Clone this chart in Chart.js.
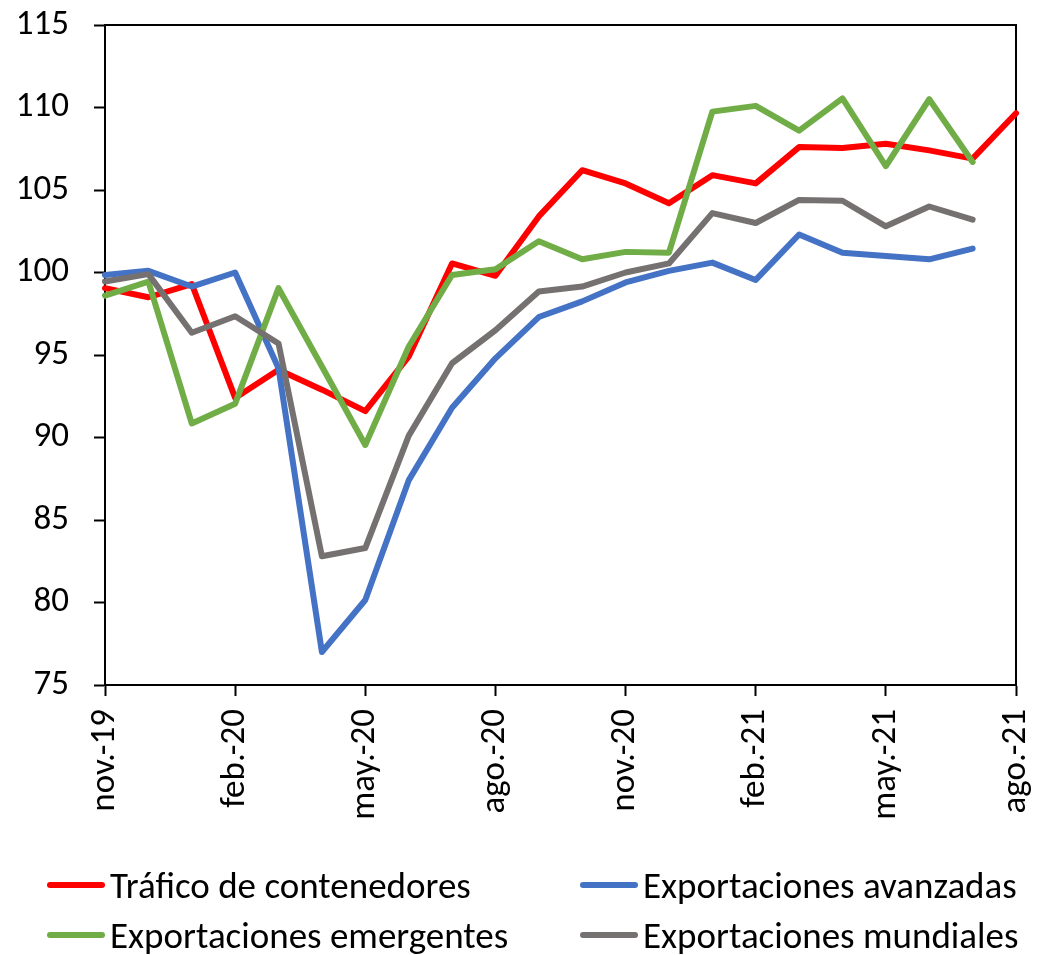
<!DOCTYPE html>
<html>
<head>
<meta charset="utf-8">
<script src="https://cdn.jsdelivr.net/npm/chart.js@4/dist/chart.umd.min.js"></script>
<style>
  html, body { margin: 0; padding: 0; background: #ffffff; }
  #wrap { position: relative; width: 1038px; height: 955px; }
  #c { position: absolute; left: 0; top: 0; }
  .leg { position: absolute; display: flex; align-items: center; font-family: Carlito, Calibri, Lato, sans-serif; font-size: 37px; color: #000; white-space: nowrap; }
  .leg .sw { width: 58px; height: 6px; border-radius: 3px; margin-right: 5px; }
</style>
</head>
<body>
<div id="wrap">
  <canvas id="c" width="1038" height="955"></canvas>
</div>
<script>
const months = ['nov.-19','dic.-19','ene.-20','feb.-20','mar.-20','abr.-20','may.-20','jun.-20','jul.-20','ago.-20','sep.-20','oct.-20','nov.-20','dic.-20','ene.-21','feb.-21','mar.-21','abr.-21','may.-21','jun.-21','jul.-21','ago.-21'];

const trafico    = [99.05, 98.5, 99.3, 92.4, 94.1, 92.9, 91.6, 94.9, 100.55, 99.8, 103.4, 106.2, 105.4, 104.2, 105.9, 105.4, 107.6, 107.55, 107.8, 107.4, 106.9, 109.65];
const avanzadas  = [99.85, 100.1, 99.15, 100.0, 94.2, 77.0, 80.15, 87.4, 91.8, 94.8, 97.3, 98.25, 99.4, 100.1, 100.6, 99.55, 102.3, 101.2, 101.0, 100.8, 101.45, null];
const emergentes = [98.6, 99.45, 90.85, 92.05, 99.05, 94.3, 89.55, 95.5, 99.85, 100.2, 101.9, 100.8, 101.25, 101.2, 109.75, 110.1, 108.6, 110.55, 106.45, 110.5, 106.7, null];
const mundiales  = [99.45, 99.9, 96.35, 97.35, 95.7, 82.8, 83.3, 90.1, 94.5, 96.5, 98.85, 99.15, 100.0, 100.55, 103.6, 103.0, 104.4, 104.35, 102.8, 104.0, 103.2, null];

const seriesNames = ['Tráfico de contenedores', 'Exportaciones avanzadas', 'Exportaciones emergentes', 'Exportaciones mundiales'];
const seriesColors = ['#FF0000', '#4472C4', '#70AD47', '#767171'];
const seriesValues = [trafico, avanzadas, emergentes, mundiales];

const yMin = 75, yMax = 115, yStep = 5, xStep = 3;

const toPoints = arr => arr.map((v, i) => ({ x: i, y: v }));

const datasets = seriesValues.map((vals, k) => ({
  label: seriesNames[k],
  data: toPoints(vals),
  borderColor: seriesColors[k],
  backgroundColor: seriesColors[k],
  borderWidth: 6,
  pointRadius: 0,
  pointHoverRadius: 0,
  tension: 0,
  spanGaps: false,
  borderCapStyle: 'round',
  borderJoinStyle: 'round',
  order: 4 - k,
  clip: 6
}));

const boxPlugin = {
  id: 'plotBox',
  beforeDatasetsDraw(chart) {
    const a = chart.chartArea, ctx = chart.ctx;
    ctx.save();
    ctx.strokeStyle = '#000';
    ctx.lineWidth = 2;
    ctx.strokeRect(a.left, a.top, a.right - a.left, a.bottom - a.top);
    ctx.restore();
  }
};

const tickFont = { family: 'Carlito, Calibri, Lato, sans-serif', size: 35 };

new Chart(document.getElementById('c'), {
  type: 'line',
  data: { datasets },
  options: {
    responsive: false,
    animation: false,
    events: [],
    layout: { padding: { left: 0, right: 22, top: 25, bottom: 0 } },
    plugins: { legend: { display: false }, tooltip: { enabled: false } },
    scales: {
      x: {
        type: 'linear',
        min: 0,
        max: months.length - 1,
        afterFit(scale) {
          scale.height = 955 - 685;
          scale.paddingLeft = 0; scale.paddingRight = 0;
        },
        border: { display: true, color: '#000', width: 2 },
        grid: { display: true, drawOnChartArea: false, drawTicks: true, tickLength: 11, color: '#000', tickColor: '#000', tickWidth: 2 },
        ticks: {
          stepSize: xStep,
          autoSkip: false,
          minRotation: 90,
          maxRotation: 90,
          padding: 13,
          color: '#000',
          font: tickFont,
          callback: (v) => months[v] !== undefined ? months[v] : ''
        }
      },
      y: {
        min: yMin,
        max: yMax,
        afterFit(scale) {
          scale.width = 105;
          scale.paddingTop = 0; scale.paddingBottom = 0;
        },
        border: { display: true, color: '#000', width: 2 },
        grid: { display: true, drawOnChartArea: false, drawTicks: true, tickLength: 11, color: '#000', tickColor: '#000', tickWidth: 2 },
        ticks: { stepSize: yStep, padding: 25, color: '#000', font: tickFont }
      }
    }
  },
  plugins: [boxPlugin]
});

// HTML legend built from the series arrays
const legendPos = [[47, 885], [580, 885], [47, 935], [580, 935]];
const wrap = document.getElementById('wrap');
seriesNames.forEach((name, k) => {
  const d = document.createElement('div');
  d.className = 'leg';
  d.style.left = legendPos[k][0] + 'px';
  d.style.top = (legendPos[k][1] - 22) + 'px';
  d.style.height = '44px';
  const sw = document.createElement('span');
  sw.className = 'sw';
  sw.style.background = seriesColors[k];
  const t = document.createElement('span');
  t.textContent = name;
  d.appendChild(sw);
  d.appendChild(t);
  wrap.appendChild(d);
});
</script>
</body>
</html>
